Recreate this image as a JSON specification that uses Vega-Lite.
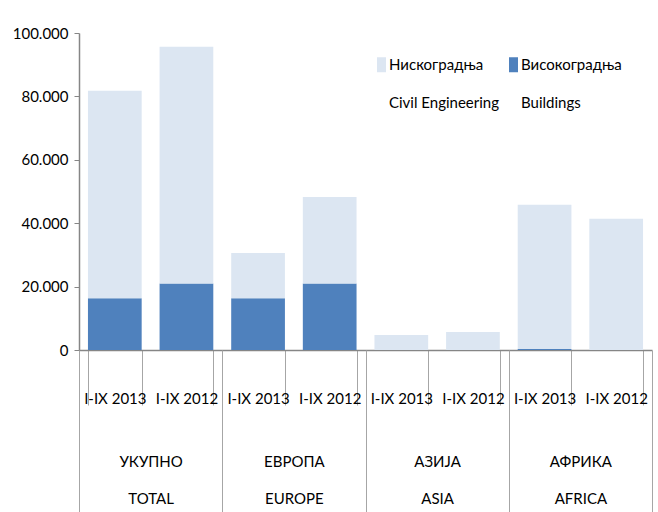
{
  "$schema": "https://vega.github.io/schema/vega-lite/v6.json",
  "width": 573,
  "height": 317,
  "autosize": "none",
  "padding": {"left": 79, "top": 33, "right": 6, "bottom": 162},
  "background": "white",
  "config": {
    "view": {"stroke": null},
    "font": "Lato",
    "style": {"guide-label": {"lineHeight": 38}},
    "locale": {"number": {"decimal": ",", "thousands": ".", "grouping": [3], "currency": ["", ""]}}
  },
  "data": {
    "values": [
      {"bar": "УКУПНО|I-IX 2013", "region": "УКУПНО|TOTAL", "series": "Високоградња", "value": 16300},
      {"bar": "УКУПНО|I-IX 2013", "region": "УКУПНО|TOTAL", "series": "Нискоградња", "value": 65500},
      {"bar": "УКУПНО|I-IX 2012", "region": "УКУПНО|TOTAL", "series": "Високоградња", "value": 21000},
      {"bar": "УКУПНО|I-IX 2012", "region": "УКУПНО|TOTAL", "series": "Нискоградња", "value": 74700},
      {"bar": "ЕВРОПА|I-IX 2013", "region": "ЕВРОПА|EUROPE", "series": "Високоградња", "value": 16300},
      {"bar": "ЕВРОПА|I-IX 2013", "region": "ЕВРОПА|EUROPE", "series": "Нискоградња", "value": 14300},
      {"bar": "ЕВРОПА|I-IX 2012", "region": "ЕВРОПА|EUROPE", "series": "Високоградња", "value": 21000},
      {"bar": "ЕВРОПА|I-IX 2012", "region": "ЕВРОПА|EUROPE", "series": "Нискоградња", "value": 27300},
      {"bar": "АЗИЈА|I-IX 2013", "region": "АЗИЈА|ASIA", "series": "Високоградња", "value": 0},
      {"bar": "АЗИЈА|I-IX 2013", "region": "АЗИЈА|ASIA", "series": "Нискоградња", "value": 4700},
      {"bar": "АЗИЈА|I-IX 2012", "region": "АЗИЈА|ASIA", "series": "Високоградња", "value": 0},
      {"bar": "АЗИЈА|I-IX 2012", "region": "АЗИЈА|ASIA", "series": "Нискоградња", "value": 5700},
      {"bar": "АФРИКА|I-IX 2013", "region": "АФРИКА|AFRICA", "series": "Високоградња", "value": 300},
      {"bar": "АФРИКА|I-IX 2013", "region": "АФРИКА|AFRICA", "series": "Нискоградња", "value": 45500},
      {"bar": "АФРИКА|I-IX 2012", "region": "АФРИКА|AFRICA", "series": "Високоградња", "value": 0},
      {"bar": "АФРИКА|I-IX 2012", "region": "АФРИКА|AFRICA", "series": "Нискоградња", "value": 41400}
    ]
  },
  "layer": [
    {
      "mark": {"type": "bar"},
      "encoding": {
        "x": {
          "field": "bar", "type": "nominal", "sort": null,
          "scale": {"paddingInner": 0.25, "paddingOuter": 0.125},
          "axis": {
            "title": null,
            "labelExpr": "split(datum.label, '|')[1]",
            "labelAngle": 0,
            "labelFontSize": 15,
            "labelColor": "black",
            "labelBaseline": "middle",
            "labelPadding": -7,
            "tickBand": "extent",
            "tickSize": 55,
            "tickColor": "#A6A6A6",
            "domainColor": "#868686",
            "domainWidth": 1.5
          }
        },
        "y": {
          "field": "value", "type": "quantitative", "stack": "zero",
          "scale": {"domain": [0, 100000], "nice": false},
          "axis": {
            "title": null,
            "values": [0, 20000, 40000, 60000, 80000, 100000],
            "format": ",d",
            "grid": false,
            "labelFontSize": 15,
            "labelColor": "black",
            "labelPadding": 6,
            "tickSize": 5,
            "tickColor": "#868686",
            "domainColor": "#868686",
            "domainWidth": 1.5
          }
        },
        "color": {
          "field": "series", "type": "nominal",
          "scale": {"domain": ["Нискоградња", "Високоградња"], "range": ["#DCE6F2", "#4F81BD"]},
          "legend": {
            "title": null,
            "orient": "none",
            "legendX": 295,
            "legendY": 24,
            "direction": "horizontal",
            "columns": 2,
            "columnPadding": 6,
            "symbolType": "M-0.6,-1H0.6V1H-0.6Z",
            "symbolSize": 225,
            "symbolStrokeWidth": 0,
            "labelFontSize": 15,
            "labelColor": "black",
            "labelBaseline": "middle",
            "labelOffset": 0,
            "labelExpr": "datum.label == 'Нискоградња' ? ['Нискоградња', 'Civil Engineering'] : ['Високоградња', 'Buildings']"
          }
        },
        "order": {"field": "series", "sort": "ascending"}
      }
    },
    {
      "mark": {"type": "point", "opacity": 0},
      "encoding": {
        "x": {
          "field": "region", "type": "nominal", "sort": null,
          "scale": {"paddingInner": 0, "paddingOuter": 0},
          "axis": {
            "title": null,
            "orient": "bottom",
            "labelExpr": "split(datum.label, '|')",
            "labelAngle": 0,
            "labelFontSize": 15,
            "labelColor": "black",
            "labelBaseline": "top",
            "labelLineHeight": 37,
            "labelPadding": -66,
            "tickBand": "extent",
            "tickSize": 170,
            "tickColor": "#A6A6A6",
            "domain": false
          }
        }
      }
    }
  ],
  "resolve": {"scale": {"x": "independent"}, "axis": {"x": "independent"}}
}
